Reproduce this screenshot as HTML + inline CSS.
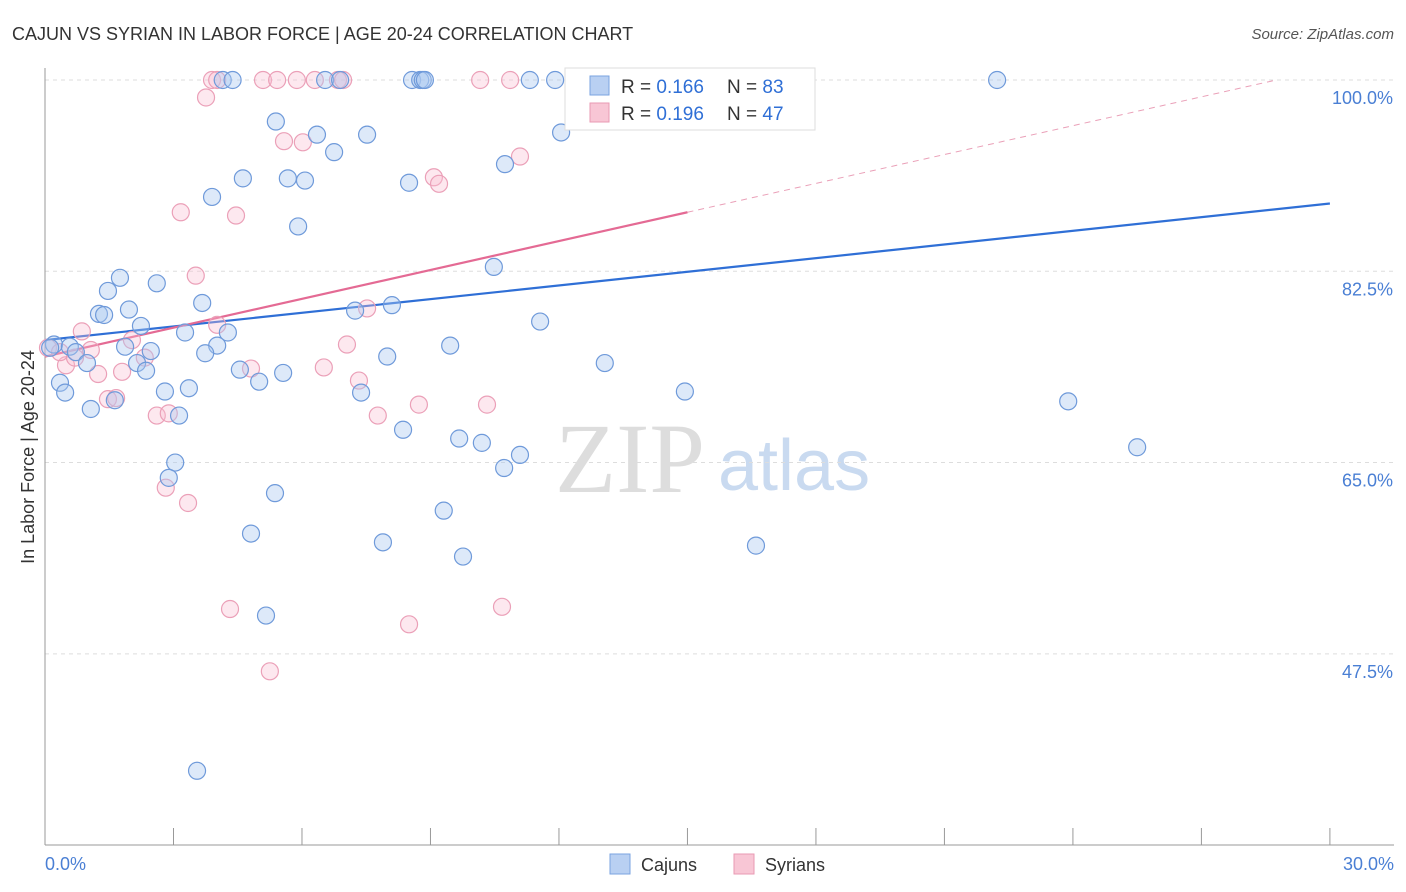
<!DOCTYPE html>
<html><head><meta charset="utf-8"><style>
body{margin:0;background:#fff;font-family:"Liberation Sans",sans-serif;}
svg{display:block}
</style></head><body>
<svg width="1406" height="892" id="chart">
<text x="12" y="40" font-size="18" fill="#333">CAJUN VS SYRIAN IN LABOR FORCE | AGE 20-24 CORRELATION CHART</text>
<text x="1394" y="39" font-size="15" fill="#555" font-style="italic" text-anchor="end">Source: ZipAtlas.com</text>
<text x="555" y="492" font-size="100" fill="#ddd" font-family="Liberation Serif,serif">ZIP</text>
<text x="718" y="490" font-size="72" fill="#c9daf0">atlas</text>
<g id="grid"></g><g id="axes"></g><g id="trends"></g><g id="points"></g>
<text transform="translate(34,457) rotate(-90)" font-size="18" fill="#333" text-anchor="middle">In Labor Force | Age 20-24</text>
<text x="45" y="870" font-size="18" fill="#4a7fd4">0.0%</text>
<text x="1394" y="870" font-size="18" fill="#4a7fd4" text-anchor="end">30.0%</text>
<g>
<rect x="565" y="68" width="250" height="62" fill="#fff" stroke="#ddd"/>
<rect x="590" y="76" width="19" height="19" fill="#b9d0f2" stroke="#7aa3e0"/>
<rect x="590" y="103" width="19" height="19" fill="#f8c6d5" stroke="#e99ab3"/>
<text x="621" y="93" font-size="19" fill="#333">R = <tspan fill="#2f6fd6">0.166</tspan></text>
<text x="727" y="93" font-size="19" fill="#333">N = <tspan fill="#2f6fd6">83</tspan></text>
<text x="621" y="120" font-size="19" fill="#333">R = <tspan fill="#2f6fd6">0.196</tspan></text>
<text x="727" y="120" font-size="19" fill="#333">N = <tspan fill="#2f6fd6">47</tspan></text>
</g>
<g>
<rect x="610" y="854" width="20" height="20" fill="#b9d0f2" stroke="#7aa3e0"/>
<text x="641" y="871" font-size="18" fill="#333">Cajuns</text>
<rect x="734" y="854" width="20" height="20" fill="#f8c6d5" stroke="#e99ab3"/>
<text x="765" y="871" font-size="18" fill="#333">Syrians</text>
</g>
</svg>
<script>
const yTicks=[100,82.5,65,47.5];
const yTickLabels=["100.0%","82.5%","65.0%","47.5%"];
const xTicks=[0,3,6,9,12,15,18,21,24,27,30];
const cajunX=[4.15,4.38,6.54,6.89,8.57,8.76,8.82,8.87,11.32,11.91,12.49,14.90,17.63,22.23,5.39,6.35,7.52,6.75,12.05,10.74,4.62,3.90,5.67,6.07,8.50,5.91,10.48,1.75,2.61,1.47,3.67,1.26,1.38,1.96,2.24,3.27,4.27,7.24,8.10,11.56,0.21,0.58,1.87,2.47,4.02,3.74,7.99,9.46,13.07,0.72,0.98,2.15,2.36,4.55,5.00,5.56,0.35,0.47,2.80,3.36,7.38,14.94,1.07,1.63,3.13,8.36,9.67,10.20,11.09,10.72,3.04,2.89,5.37,9.31,4.81,7.89,9.76,16.60,5.16,3.55,23.89,25.50,0.12];
const cajunY=[100,100,100,100,100,100,100,100,100,100,100,100,100,100,96.2,95.0,95.0,93.4,95.2,92.3,91.0,89.3,91.0,90.8,90.6,86.6,82.9,81.9,81.4,80.7,79.6,78.6,78.5,79.0,77.5,76.9,76.9,78.9,79.4,77.9,75.8,75.6,75.6,75.2,75.7,75.0,74.7,75.7,74.1,75.1,74.1,74.1,73.4,73.5,72.4,73.2,72.3,71.4,71.5,71.8,71.4,71.5,69.9,70.7,69.3,68.0,67.2,66.8,65.7,64.5,65.0,63.6,62.2,60.6,58.5,57.7,56.4,57.4,51.0,36.8,70.6,66.4,75.5];
const syrX=[3.90,4.02,5.09,5.42,5.88,6.30,6.84,6.96,10.16,10.86,3.76,5.58,6.02,11.09,9.08,9.20,3.17,4.46,3.52,7.52,4.02,0.86,2.03,7.05,1.07,2.33,0.49,1.24,1.80,4.81,6.51,7.33,1.47,1.66,2.61,2.89,7.77,8.73,10.32,2.82,3.34,4.32,8.50,10.67,5.25,0.07,0.35,0.70];
const syrY=[100,100,100,100,100,100,100,100,100,100,98.4,94.4,94.3,93.0,91.1,90.5,87.9,87.6,82.1,79.1,77.6,77.0,76.2,75.8,75.3,74.6,73.9,73.1,73.3,73.6,73.7,72.5,70.8,70.9,69.3,69.5,69.3,70.3,70.3,62.7,61.3,51.6,50.2,51.8,45.9,75.5,75.1,74.6];
const cajunTrend=[76.2,88.7];
const syrTrend=[74.7,87.9];
const NS="http://www.w3.org/2000/svg";
const X=v=>45+v*42.83, Y=v=>80+(100-v)*10.93;
function mk(t,a,p){const e=document.createElementNS(NS,t);for(const k in a)e.setAttribute(k,a[k]);p.appendChild(e);return e;}
const grid=document.getElementById('grid'),axes=document.getElementById('axes'),tr=document.getElementById('trends'),pts=document.getElementById('points');
yTicks.forEach((v,i)=>{
 const l=mk('line',{x1:45,x2:1394,y1:Y(v),y2:Y(v),stroke:'#ddd','stroke-dasharray':'4,4'},grid);
 
 
 const t=mk('text',{x:1393,y:Y(v)+24,'font-size':18,fill:'#4a7fd4','text-anchor':'end'},grid);
 t.textContent=yTickLabels[i];
 
 
});
const xa=mk('line',{x1:45,x2:1394,y1:845,y2:845,stroke:'#999'},axes);


const ya=mk('line',{x1:45,x2:45,y1:68,y2:845,stroke:'#999'},axes);


xTicks.forEach(v=>{const t=mk('line',{x1:X(v),x2:X(v),y1:828,y2:845,stroke:'#999'},axes);
 
 });
function dots(xs,ys,fill,stroke,name){xs.forEach((x,i)=>{const c=mk('circle',{cx:X(x),cy:Y(ys[i]),r:8.5,fill:fill,stroke:stroke,'stroke-width':1.2},pts);
 
 });}
dots(syrX,syrY,'rgba(248,190,208,0.35)','#eba0b8','syrian-point');
dots(cajunX,cajunY,'rgba(170,200,240,0.4)','#6f9ada','cajun-point');
const bt=mk('line',{x1:X(0),y1:Y(cajunTrend[0]),x2:X(30),y2:Y(cajunTrend[1]),stroke:'#2f6fd6','stroke-width':2.2},tr);


const sl=(syrTrend[1]-syrTrend[0])/15, xe=(100-syrTrend[0])/sl;
const pt=mk('line',{x1:X(0),y1:Y(syrTrend[0]),x2:X(15),y2:Y(syrTrend[1]),stroke:'#e46a94','stroke-width':2.2},tr);


const pd=mk('line',{x1:X(15),y1:Y(syrTrend[1]),x2:X(xe),y2:Y(100),stroke:'#eaa0b8','stroke-width':1,'stroke-dasharray':'6,5'},tr);


</script>
</body></html>
